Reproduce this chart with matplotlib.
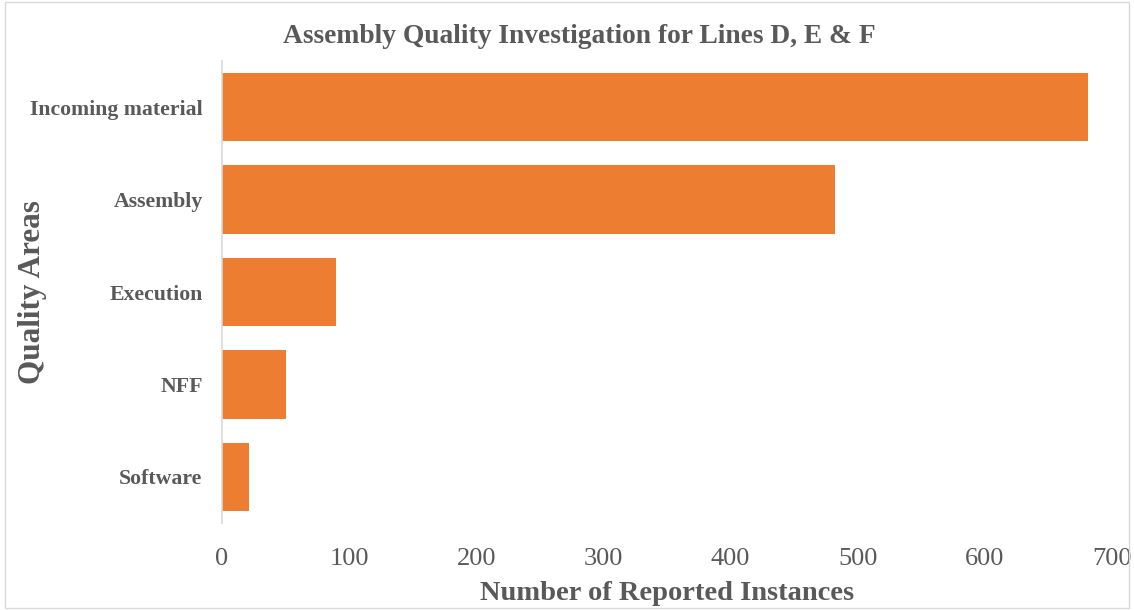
import matplotlib
matplotlib.use("Agg")
import matplotlib.pyplot as plt

# -- data --
areas = ["Incoming material", "Assembly", "Execution", "NFF", "Software"]
instances = [681, 482, 90, 50, 21]
x_ticks = [0, 100, 200, 300, 400, 500, 600, 700]

BAR = "#ED7D31"
TXT = "#595959"
plt.rcParams["font.family"] = ["Liberation Serif", "DejaVu Serif"]

fig = plt.figure(figsize=(11.34, 6.10), dpi=100)
ax = fig.add_axes([0.1958, 0.1426, 0.7848, 0.7574])

ypos = list(range(len(areas)))
ax.barh(ypos, instances, height=0.74, color=BAR)
ax.set_ylim(len(areas) - 0.5, -0.5)
ax.set_xlim(0, 700)

ax.set_yticks(ypos)
ax.set_yticklabels(areas, fontsize=15.7, fontweight="bold", color=TXT)
ax.set_xticks(x_ticks)
ax.set_xticklabels([str(t) for t in x_ticks], fontsize=19, color=TXT)
ax.tick_params(axis="both", length=0)
ax.tick_params(axis="y", pad=14)
ax.tick_params(axis="x", pad=18)

for s in ["top", "right", "bottom"]:
    ax.spines[s].set_visible(False)
ax.spines["left"].set_color("#D9D9D9")
ax.spines["left"].set_linewidth(1.2)

ax.set_xlabel("Number of Reported Instances", fontsize=20.5, fontweight="bold",
              color=TXT, labelpad=8)
ax.set_ylabel("Quality Areas", fontsize=22.5, fontweight="bold", color=TXT)
ax.yaxis.set_label_coords(47 / 1134, 0.521, transform=fig.transFigure)
fig.text(0.511, 0.94, "Assembly Quality Investigation for Lines D, E & F",
         ha="center", va="center", fontsize=19.8, fontweight="bold", color=TXT)

# light frame round the whole chart
fig.patches.append(plt.Rectangle((0.004, 0.004), 0.992, 0.992, transform=fig.transFigure,
                                 fill=False, edgecolor="#D9D9D9", linewidth=1))

plt.savefig("out.png", dpi=100)
plt.close()
